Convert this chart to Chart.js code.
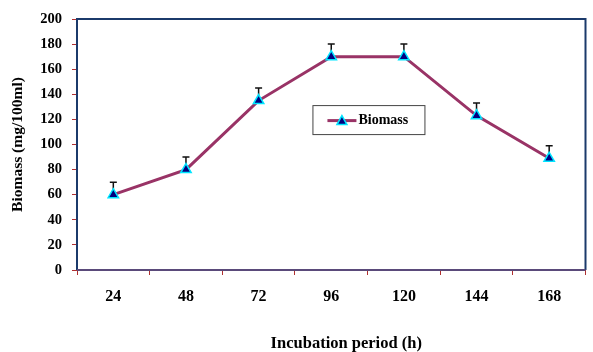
<!DOCTYPE html>
<html>
<head>
<meta charset="utf-8">
<script src="https://cdn.jsdelivr.net/npm/chart.js@4.4.0/dist/chart.umd.min.js"></script>
<style>
  html, body { margin: 0; padding: 0; background: #fff; }
  #wrap { width: 593px; height: 352px; }
</style>
</head>
<body>
<div id="wrap"><canvas id="biomassChart" width="593" height="352"></canvas></div>
<script>
// Data
const hours = ['24', '48', '72', '96', '120', '144', '168'];
const biomass = [60, 80, 135, 170, 170, 123, 89];
const biomassErr = [10, 10, 10, 10, 10, 10, 10];
const yTicks = [0, 20, 40, 60, 80, 100, 120, 140, 160, 180, 200];

const serif = "'Liberation Serif', 'Times New Roman', serif";

// frame round the plot area (top and right sides too)
const framePlugin = {
    id: 'frame',
    beforeDatasetsDraw(chart) {
        const { ctx, chartArea: a } = chart;
        ctx.save();
        ctx.strokeStyle = '#1b3a6b';
        ctx.lineWidth = 2;
        ctx.beginPath();
        ctx.moveTo(a.left, a.bottom);
        ctx.lineTo(a.left, a.top);
        ctx.lineTo(a.right, a.top);
        ctx.lineTo(a.right, a.bottom);
        ctx.stroke();
        ctx.strokeStyle = '#5a4a7a';
        ctx.beginPath();
        ctx.moveTo(a.left, a.bottom);
        ctx.lineTo(a.right, a.bottom);
        ctx.stroke();
        ctx.restore();
    }
};

// upper error bars
const errorBarPlugin = {
    id: 'errorBars',
    beforeDatasetsDraw(chart) {
        const { ctx, scales: { x, y } } = chart;
        ctx.save();
        ctx.strokeStyle = '#111';
        ctx.lineWidth = 1.5;
        biomass.forEach((v, i) => {
            const px = x.getPixelForValue(i);
            const y0 = y.getPixelForValue(v);
            const y1 = y.getPixelForValue(v + biomassErr[i]);
            ctx.beginPath();
            ctx.moveTo(px, y0);
            ctx.lineTo(px, y1);
            ctx.moveTo(px - 3.5, y1);
            ctx.lineTo(px + 3.5, y1);
            ctx.stroke();
        });
        ctx.restore();
    }
};

// legend box inside the plot, and the x axis title (sits a bit right of centre)
const legendBoxPlugin = {
    id: 'legendBox',
    afterDatasetsDraw(chart) {
        const { ctx, chartArea: a } = chart;
        const bx = a.left + (a.right - a.left) * 0.463;
        const by = a.top + (a.bottom - a.top) * 0.343;
        const bw = 112, bh = 29;
        ctx.save();
        ctx.fillStyle = '#fff';
        ctx.fillRect(bx, by, bw, bh);
        ctx.strokeStyle = '#444';
        ctx.lineWidth = 1;
        ctx.strokeRect(bx + 0.5, by + 0.5, bw, bh);
        const cy = by + bh / 2 + 1;
        ctx.strokeStyle = '#993366';
        ctx.lineWidth = 3;
        ctx.beginPath();
        ctx.moveTo(bx + 15, cy);
        ctx.lineTo(bx + 44, cy);
        ctx.stroke();
        ctx.fillStyle = '#000080';
        ctx.strokeStyle = '#00e5ff';
        ctx.lineWidth = 1.5;
        ctx.beginPath();
        ctx.moveTo(bx + 29.5, cy - 5);
        ctx.lineTo(bx + 34.5, cy + 4);
        ctx.lineTo(bx + 24.5, cy + 4);
        ctx.closePath();
        ctx.fill();
        ctx.stroke();
        ctx.fillStyle = '#000';
        ctx.font = 'bold 14px ' + serif;
        ctx.textBaseline = 'middle';
        ctx.fillText('Biomass', bx + 46, cy);

        // x axis title
        ctx.font = 'bold 16.5px ' + serif;
        ctx.textAlign = 'center';
        ctx.fillText('Incubation period (h)', (a.left + a.right) / 2 + 15, chart.height - 8);
        ctx.restore();
    }
};

const ctx = document.getElementById('biomassChart').getContext('2d');
new Chart(ctx, {
    type: 'line',
    data: {
        labels: hours,
        datasets: [{
            label: 'Biomass',
            data: biomass,
            borderColor: '#993366',
            borderWidth: 3,
            pointStyle: 'triangle',
            pointRadius: 6,
            pointBackgroundColor: '#000080',
            pointBorderColor: '#00e5ff',
            pointBorderWidth: 1.5,
            tension: 0
        }]
    },
    options: {
        responsive: false,
        animation: false,
        layout: { padding: { left: 0, right: 1, top: 19, bottom: 0 } },
        plugins: {
            legend: { display: false },
            tooltip: { enabled: false }
        },
        scales: {
            x: {
                offset: true,
                afterFit(scale) { scale.height = 82; },
                grid: {
                    offset: true,
                    drawOnChartArea: false,
                    drawTicks: true,
                    tickLength: 5,
                    color: '#b03030'
                },
                border: { display: false },
                ticks: {
                    color: '#000',
                    padding: 12,
                    font: { family: serif, size: 16, weight: 'bold' }
                }
            },
            y: {
                min: 0,
                max: 200,
                afterFit(scale) { scale.width = 77; },
                afterBuildTicks(scale) { scale.ticks = yTicks.map(v => ({ value: v })); },
                grid: {
                    drawOnChartArea: false,
                    drawTicks: true,
                    tickLength: 5,
                    color: '#b03030'
                },
                border: { display: false },
                ticks: {
                    color: '#000',
                    padding: 10,
                    font: { family: serif, size: 14.5, weight: 'bold' }
                },
                title: {
                    display: true,
                    text: 'Biomass (mg/100ml)',
                    color: '#000',
                    padding: { top: 9, bottom: 0 },
                    font: { family: serif, size: 15.5, weight: 'bold' }
                }
            }
        }
    },
    plugins: [framePlugin, errorBarPlugin, legendBoxPlugin]
});
</script>
</body>
</html>
